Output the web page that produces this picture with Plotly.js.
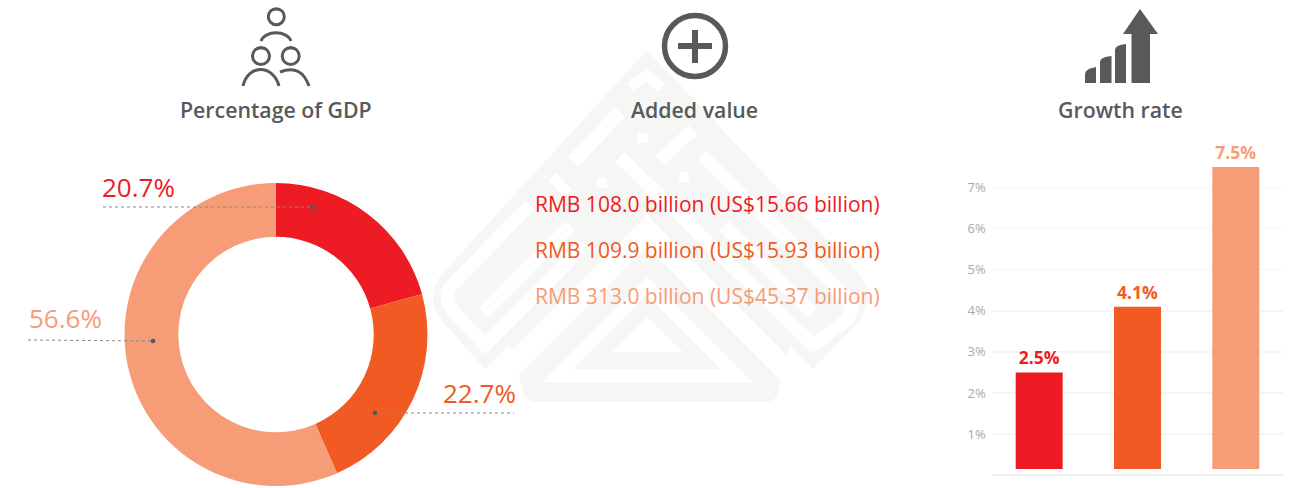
<!DOCTYPE html>
<html>
<head>
<meta charset="utf-8">
<script src="https://cdn.plot.ly/plotly-3.0.1.min.js"></script>
<style>html,body{margin:0;padding:0;background:#fff}#chart{width:1289px;height:488px}</style>
</head>
<body>
<div id="chart"></div>
<script>
// ---- data ----
const sectorColors = ['#ed1c24', '#f15a22', '#f69c77'];
const gdpShares = [20.7, 22.7, 56.6];
const addedValueLines = [
  'RMB 108.0 billion (US$15.66 billion)',
  'RMB 109.9 billion (US$15.93 billion)',
  'RMB 313.0 billion (US$45.37 billion)'
];
const growthCategories = ['Primary', 'Secondary', 'Tertiary'];
const growthRates = [2.5, 4.1, 7.5];
const growthTicks = [1, 2, 3, 4, 5, 6, 7];
const panelTitles = ['Percentage of GDP', 'Added value', 'Growth rate'];

// ---- layout helpers (canvas pixels to paper fractions) ----
const W = 1289, H = 488;
const FONT = '"Open Sans", sans-serif';
const DARK = '#58595b', WM = '#f6f6f4';
const px = x => x / W, py = y => 1 - y / H;
const P = s => s.replace(/(-?[\d.]+),(-?[\d.]+)/g, (m, a, b) => px(+a).toFixed(5) + ',' + py(+b).toFixed(5));
const path = (d, o = {}) => ({
  type: 'path', xref: 'paper', yref: 'paper', path: P(d), layer: o.layer || 'above',
  fillcolor: o.fill || 'rgba(0,0,0,0)',
  line: {color: o.color || DARK, width: o.width === undefined ? 3 : o.width, dash: o.dash || 'solid'}
});
const circle = (cx, cy, r, o = {}) => ({
  type: 'circle', xref: 'paper', yref: 'paper', layer: o.layer || 'above',
  x0: px(cx - r), x1: px(cx + r), y0: py(cy + r), y1: py(cy - r),
  fillcolor: o.fill || 'rgba(0,0,0,0)',
  line: {color: o.color || DARK, width: o.width === undefined ? 3 : o.width}
});
const note = (text, x, y, size, color, anchor, weight) => ({
  text, xref: 'paper', yref: 'paper', x: px(x), y: py(y), xanchor: anchor, yanchor: 'middle',
  showarrow: false, font: {family: FONT, size, color, weight: weight || 400}
});

// ---- watermark ----
const wmWhite = (d, w) => path(d, {layer: 'below', color: '#ffffff', width: w});
const watermark = [
  path('M647,50 L441,275 Q425,296 441,320 L485,369 L510,345 L523,392 Q526,402 536,402 L766,402 Q776,402 778,392 L790,345 L813,369 L860,320 Q875,296 860,275 Z',
       {layer: 'below', fill: WM, width: 0, color: WM}),
  wmWhite('M500,378 L647,231 L798,382', 22),
  wmWhite('M557,376 L647,286 L737,376 Z', 13),
  path('M647,317 L683,352 L611,352 Z', {layer: 'below', fill: '#ffffff', color: '#ffffff', width: 0}),
  wmWhite('M530,205 L452,285 Q443,296 452,310 L485,345 L585,245', 13),
  wmWhite('M483,313 L570,226', 13),
  wmWhite('M702,155 L847,298 Q856,308 847,320 L813,345 L620,157', 13),
  wmWhite('M724,226 L813,313', 13),
  wmWhite('M573,162 L620,112', 14),
  wmWhite('M630,87 L647,75 L662,88', 10),
  wmWhite('M660,160 L693,130', 13),
  wmWhite('M552,177 L568,193', 11),
  wmWhite('M638,138 L648,138', 10),
  wmWhite('M597,183 L607,183', 10),
  wmWhite('M679,177 L689,177', 10)
];

// ---- icons ----
const icons = [
  circle(276.3, 16.7, 8), circle(261, 56, 8.5), circle(290.7, 56, 8.5),
  path('M270,11 Q274,8 280,10', {width: 2}), path('M255,50 Q259,47 265,49', {width: 2}), path('M285,50 Q289,47 295,49', {width: 2}),
  path('M261,41 C265,30 287,30 291,41'),
  path('M243,86 C248,64 273,64 279,86'),
  path('M280,72 C295,66 304,72 309,86'),
  circle(695, 46, 30.5, {width: 5.5}),
  path('M678,46 L712,46', {width: 6}), path('M695,30 L695,63', {width: 6}),
  path('M1085,83 L1085,74 Q1085,69 1096,67 L1096,83 Z', {fill: DARK, width: 0}),
  path('M1100,83 L1100,62 Q1100,57 1111.5,56 L1111.5,83 Z', {fill: DARK, width: 0}),
  path('M1115,83 L1115,50 Q1115,45 1126,44 L1126,83 Z', {fill: DARK, width: 0}),
  path('M1131.5,83 L1131.5,34 L1123,34 L1140,9 L1158,34 L1150,34 L1150,83 Z', {fill: DARK, width: 0})
];

// ---- leaders ----
const leaders = [
  [103, 207, 313, 207], [28, 340, 153, 341], [375, 413, 514, 413]
].flatMap(([x0, y0, x1, y1], i) => [
  path(`M${x0},${y0} L${x1},${y1}`, {color: '#85898c', width: 1, dash: 'dot'}),
  circle(i === 2 ? x0 : x1, i === 2 ? y0 : y1, 2.3, {fill: '#4d5a60', color: '#4d5a60', width: 0})
]);

// ---- traces ----
const pieCx = 276, pieCy = 334.5, pieR = 151.5;
const donut = {
  type: 'pie', values: gdpShares, labels: growthCategories, sort: false, direction: 'clockwise', rotation: 0,
  hole: 0.645, textinfo: 'none', hoverinfo: 'skip', showlegend: false,
  marker: {colors: sectorColors, line: {width: 0}},
  domain: {x: [px(pieCx - pieR), px(pieCx + pieR)], y: [py(pieCy + pieR), py(pieCy - pieR)]}
};
const barFoot = 0.15;
const bars = {
  type: 'bar', x: growthCategories, y: growthRates.map(v => v - barFoot), base: barFoot,
  width: 0.478, marker: {color: sectorColors, line: {width: 0}},
  text: growthRates.map(v => v.toFixed(1) + '%'), textposition: 'outside', cliponaxis: false,
  textfont: {family: FONT, size: 17.5, weight: 700, color: sectorColors},
  hoverinfo: 'skip', showlegend: false
};

const shareAnchors = [[138, 187, 'center'], [479, 393, 'center'], [65.5, 318, 'center']];
const layout = {
  width: W, height: H, margin: {l: 0, r: 0, t: 0, b: 0},
  paper_bgcolor: '#ffffff', plot_bgcolor: 'rgba(0,0,0,0)', showlegend: false,
  xaxis: {domain: [px(991.7), px(1282.7)], range: [-0.483, 2.477], type: 'category',
          showticklabels: false, showgrid: false, zeroline: false, ticks: '', showline: false, fixedrange: true},
  yaxis: {domain: [py(475.2), py(146.4)], range: [0, 8], tickvals: growthTicks,
          ticktext: growthTicks.map(v => v + '%'), ticks: '', showline: false,
          showgrid: true, gridcolor: '#f5f5f5', gridwidth: 1.5,
          zeroline: true, zerolinecolor: '#efefef', zerolinewidth: 1.5,
          ticklabelstandoff: 5, tickfont: {family: FONT, size: 13, color: '#a7a9ac'}, fixedrange: true},
  shapes: [...watermark, ...icons, ...leaders],
  annotations: [
    note(panelTitles[0], 275.5, 110, 21.3, DARK, 'center', 600),
    note(panelTitles[1], 695, 110, 21.3, DARK, 'center', 600),
    note(panelTitles[2], 1120, 110, 21.3, DARK, 'center', 600),
    ...addedValueLines.map((t, i) => note(t, 533, 204 + 46 * i, 21, sectorColors[i], 'left', 400)),
    ...gdpShares.map((v, i) => note(v.toFixed(1) + '%', shareAnchors[i][0], shareAnchors[i][1], 26, sectorColors[i], shareAnchors[i][2], 400))
  ]
};
Plotly.newPlot('chart', [bars, donut], layout, {displayModeBar: false, staticPlot: true});
</script>
</body>
</html>
